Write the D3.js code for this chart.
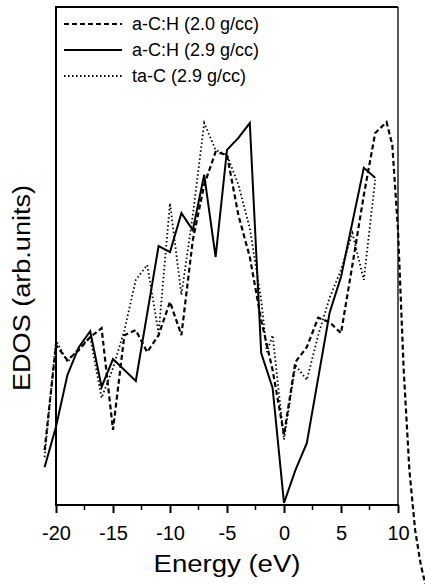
<!DOCTYPE html>
<html>
<head>
<meta charset="utf-8">
<script src="https://cdn.jsdelivr.net/npm/d3@7"></script>
<style>
    body { margin: 0; background: #fff; }
    svg text { font-family: "Liberation Sans", Arial, sans-serif; fill: #000; }
</style>
</head>
<body>
<svg id="edosSvg" width="425" height="584"></svg>
<script>
// EDOS curves, energy in eV, density in arb. units

let energyTicks = [-20, -15, -10, -5, 0, 5, 10];
let minorTicks = [-17.5, -12.5, -7.5, -2.5, 2.5, 7.5];

let legendNames = ["a-C:H (2.0 g/cc)", "a-C:H (2.9 g/cc)", "ta-C (2.9 g/cc)"];

// a-C:H (2.0 g/cc), dashed
let acH20Energy = [-21, -20, -19, -18, -17, -16, -15, -14, -13, -12, -11, -10, -9, -8, -7, -6, -5, -4, -3, -2, -1, 0,
    1, 2, 3, 4, 5, 6, 7, 8, 9, 9.5, 10, 10.5, 11, 11.5, 12, 12.4];
let acH20Dos = [11.0, 32.1, 29.1, 31.1, 33.7, 35.5, 15.1, 34.1, 35.1, 30.7, 34.1, 40.8, 34.1, 53.2, 64.3, 70.9, 70.3,
    58.2, 49.8, 37.1, 27.1, 14.1, 28.7, 31.7, 37.6, 36.7, 34.5, 48.2, 62.2, 74.7, 76.9, 72.3, 55.2, 27.1, 7.0, -5.0,
    -12.0, -15.9];

// a-C:H (2.9 g/cc), solid
let acH29Energy = [-21, -20, -19, -18, -17, -16, -15, -13, -11, -10, -9, -8, -7, -6, -5, -4, -3, -2, -1, 0, 1, 2, 4, 5, 7, 8];
let acH29Dos = [7.6, 15.7, 26.1, 31.7, 34.9, 23.7, 29.3, 24.9, 52.0, 50.8, 58.6, 55.2, 66.3, 49.8, 71.3, 73.7, 76.7,
    30.5, 23.5, 0.4, 7.0, 12.4, 38.6, 45.8, 67.7, 65.7];

// ta-C (2.9 g/cc), dotted
let taCEnergy = [-21, -20, -19, -18, -17, -16, -15, -14, -13, -12, -11, -10, -9, -8, -7, -6, -5, -4, -3, -2, -1.5, -1,
    0, 1, 2, 3, 4, 5, 6, 7, 8];
let taCDos = [9.6, 33.1, 28.7, 31.5, 33.7, 21.5, 27.5, 35.1, 45.2, 48.2, 34.5, 60.6, 42.2, 58.2, 76.7, 71.3, 70.3,
    64.3, 55.6, 41.2, 30.7, 34.1, 13.1, 28.1, 25.1, 34.1, 41.6, 47.2, 54.6, 45.2, 65.3];

let frame = {left: 56, right: 398, top: 7, bottom: 505};

let xScale = d3.scaleLinear().domain([-20, 10]).range([frame.left, frame.right]);
let yScale = d3.scaleLinear().domain([0, 100]).range([frame.bottom, frame.top]);

function toPoints(xs, ys) {
    let pts = [];
    for (let i in xs) {
        pts.push({e: xs[i], v: ys[i]});
    }
    return pts;
}

let seriesList = [
    {name: legendNames[0], data: toPoints(acH20Energy, acH20Dos), dash: "5,3", width: 2.2},
    {name: legendNames[1], data: toPoints(acH29Energy, acH29Dos), dash: null, width: 2},
    {name: legendNames[2], data: toPoints(taCEnergy, taCDos), dash: "1.5,2.5", width: 1.8}
];

function drawChart() {
    let svg = d3.select("#edosSvg");

    let line = d3.line()
        .x(function (d) { return xScale(d.e); })
        .y(function (d) { return yScale(d.v); });

    // curves, not clipped (they run past the frame in the original)
    svg.append("g")
        .selectAll("path")
        .data(seriesList)
        .enter()
        .append("path")
        .attr("d", function (d) { return line(d.data); })
        .attr("fill", "none")
        .attr("stroke", "#000")
        .attr("stroke-width", function (d) { return d.width; })
        .attr("stroke-dasharray", function (d) { return d.dash; })
        .attr("stroke-linejoin", "miter");

    // frame
    svg.append("line")
        .attr("x1", frame.left).attr("x2", frame.right)
        .attr("y1", frame.top).attr("y2", frame.top)
        .attr("stroke", "#000").attr("stroke-width", 2);
    svg.append("line")
        .attr("x1", frame.left).attr("x2", frame.left)
        .attr("y1", frame.top - 1).attr("y2", frame.bottom + 1)
        .attr("stroke", "#000").attr("stroke-width", 2);
    svg.append("line")
        .attr("x1", frame.right).attr("x2", frame.right)
        .attr("y1", frame.top).attr("y2", frame.bottom)
        .attr("stroke", "#000").attr("stroke-width", 1.3);

    // bottom axis, major + minor ticks
    let xAxis = d3.axisBottom(xScale)
        .tickValues(energyTicks)
        .tickSize(8)
        .tickPadding(13)
        .tickFormat(function (d) { return String(d); });

    let axisG = svg.append("g")
        .attr("transform", "translate(0," + frame.bottom + ")")
        .call(xAxis);
    axisG.select(".domain").attr("stroke-width", 2).attr("d",
        "M" + (frame.left - 1) + ",0H" + (frame.right + 1));
    axisG.selectAll(".tick line").attr("stroke-width", 2);
    axisG.selectAll(".tick text")
        .style("font-family", "Liberation Sans, Arial, sans-serif")
        .style("font-size", "20px");

    axisG.selectAll(".minor")
        .data(minorTicks)
        .enter()
        .append("line")
        .attr("class", "minor")
        .attr("x1", function (d) { return xScale(d); })
        .attr("x2", function (d) { return xScale(d); })
        .attr("y1", 0).attr("y2", 5)
        .attr("stroke", "#000").attr("stroke-width", 1.5);

    // axis titles (the original lettering is a little wider than Liberation Sans)
    svg.append("text")
        .attr("x", (frame.left + frame.right) / 2)
        .attr("y", 572)
        .attr("text-anchor", "middle")
        .attr("textLength", 147)
        .attr("lengthAdjust", "spacingAndGlyphs")
        .style("font-size", "23px")
        .text("Energy (eV)");

    svg.append("text")
        .attr("transform", "translate(30,288) rotate(-90)")
        .attr("text-anchor", "middle")
        .attr("textLength", 206)
        .attr("lengthAdjust", "spacingAndGlyphs")
        .style("font-size", "23px")
        .text("EDOS (arb.units)");

    drawLegend(svg);
}

function drawLegend(svg) {
    let rowY = [24, 50, 76];
    let g = svg.append("g");
    _each(seriesList, function (d, i) {
        g.append("line")
            .attr("x1", 64).attr("x2", 122)
            .attr("y1", rowY[i]).attr("y2", rowY[i])
            .attr("stroke", "#000")
            .attr("stroke-width", d.width)
            .attr("stroke-dasharray", d.dash);
        g.append("text")
            .attr("x", 132)
            .attr("y", rowY[i])
            .attr("dy", "0.36em")
            .style("font-size", "18px")
            .text(d.name);
    });
}

function _each(arr, fn) {
    for (let i = 0; i < arr.length; i++) fn(arr[i], i);
}

drawChart();
</script>
</body>
</html>
